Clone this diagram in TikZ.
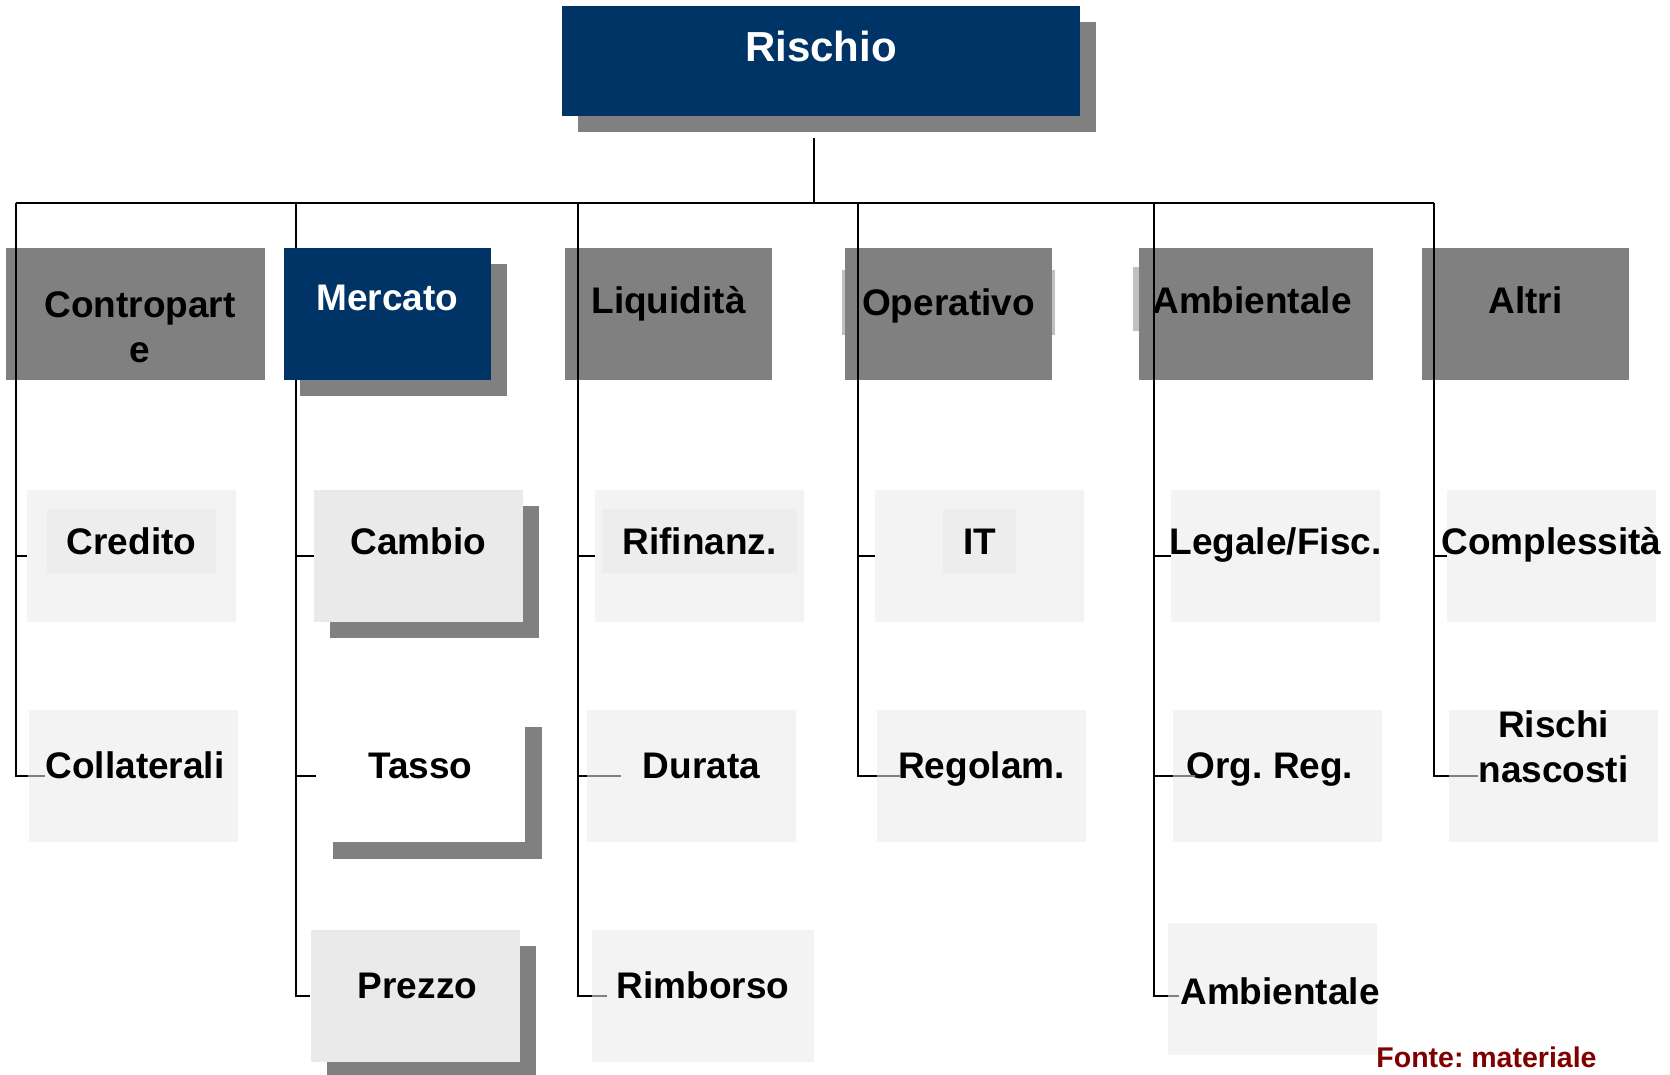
\documentclass[tikz,border=0pt]{standalone}
\usepackage{fontspec}
\setmainfont{Liberation Sans}
\frenchspacing
\usepackage{tikz}
\usetikzlibrary{positioning,shadows,backgrounds,calc}
\definecolor{navy}{RGB}{0,51,102}
\definecolor{catgray}{RGB}{128,128,128}
\definecolor{subfill}{RGB}{243,243,243}
\definecolor{darkfill}{RGB}{234,234,234}
\definecolor{innerfill}{RGB}{237,237,237}
\definecolor{backfill}{RGB}{192,192,192}
\definecolor{fonte}{RGB}{128,0,0}

\begin{document}
\begin{tikzpicture}[x=0.5pt, y=-0.5pt,
    txt/.style={font=\bfseries\fontsize{18.5}{22.5}\selectfont, inner sep=0pt, align=center},
    caps/.style={text height=#1, text depth=0pt}, caps/.default=13.3pt,
    cat/.style={fill=catgray, minimum width=103.5pt, minimum height=66pt, inner sep=0pt},
    sub/.style={fill=subfill, minimum width=104.5pt, minimum height=66pt, inner sep=0pt},
    inner/.style={txt, caps, fill=innerfill, minimum height=32pt, inner xsep=10pt},
    shade/.style={drop shadow={opacity=1, fill=catgray, shadow xshift=#1, shadow yshift=-#1}},
    shade/.default=8pt,
    tree/.style={line width=1pt},
    stub/.style={line width=1pt, catgray}]
   \useasboundingbox (0,0) rectangle (1670,1075);

   \node[fill=navy, minimum width=259pt, minimum height=55pt, shade,
     label={[txt, caps=15pt, white, font=\bfseries\fontsize{21}{25}\selectfont, yshift=7pt]center:Rischio}] (risk) at (821,61) {};
   \node[cat, fill=navy, shade, label={[txt, caps, white, yshift=8.5pt]center:Mercato}] (mkt) at (387.5,314) {};

   \node[sub, label={[inner, yshift=7.5pt]center:Credito}] (cred) at (131.5,556) {};
   \node[sub, fill=darkfill, shade, label={[txt, caps, yshift=7.25pt]center:Cambio}] (camb) at (418.5,556) {};
   \node[sub, label={[inner, yshift=7.5pt]center:Rifinanz.}] (rif) at (699.5,556) {};
   \node[sub, label={[inner, yshift=7.5pt]center:IT}] (it) at (979.5,556) {};
   \node[sub, label={[txt, caps, yshift=7.25pt]center:Legale/Fisc.}] (leg) at (1275.5,556) {};
   \node[sub, label={[txt, caps, yshift=7.25pt]center:Complessità}] (cplx) at (1551.5,556) {};

   \node[sub, label={[txt, caps, yshift=5.5pt, xshift=1pt]center:Collaterali}] (coll) at (133,776) {};
   \node[sub, fill=white, shade=8.5pt, label={[txt, caps, yshift=5.5pt]center:Tasso}] (tas) at (420.5,776) {};
   \node[sub, label={[txt, caps, yshift=5.5pt, xshift=5pt]center:Durata}] (dur) at (691.5,776) {};
   \node[sub, label={[txt, caps, yshift=5.5pt]center:Regolam.}] (reg) at (981.5,776) {};
   \node[sub, label={[txt, caps, yshift=5.5pt, xshift=-3.75pt]center:Org. Reg.}] (org) at (1277.5,776) {};
   \node[sub, label={[txt, yshift=14.5pt]center:{Rischi\\nascosti}}] (hid) at (1553.5,776) {};

   \node[sub, fill=darkfill, shade, label={[txt, caps, yshift=5.5pt, xshift=1.25pt]center:Prezzo}] (prz) at (415,996) {};
   \node[sub, minimum width=111pt, label={[txt, caps, yshift=5.5pt]center:Rimborso}] (rim) at (703,996) {};
   \node[sub, label={[txt, caps, yshift=-1pt, xshift=3.75pt]center:Ambientale}] (ambc) at (1272.5,989) {};

   \node[txt, caps=10.2pt, text=fonte, font=\bfseries\fontsize{14.25}{17}\selectfont] (src) at (1486.5,1057) {Fonte: materiale};

   \draw[stub] (coll.west) -- +(17,0);
   \draw[stub] (dur.west) -- +(34,0);
   \draw[stub] (reg.west) -- +(24,0);
   \draw[stub] (org.west) -- +(22,0);
   \draw[stub] (hid.west) -- +(29,0);
   \draw[stub] (rim.west) -- +(15,0);
   \draw[stub] ([yshift=-3.5pt]ambc.west) -- +(11,0);

   \begin{scope}[on background layer]
   \fill[backfill] (842,270) rectangle (1055,335);
   \fill[backfill] (1133,267) rectangle (1373,331);
   \node[cat, minimum width=129.5pt, label={[txt, yshift=-6.5pt, xshift=2.25pt]center:{Contropart\\e}}] (cp) at (135.5,314) {};
   \node[cat, label={[txt, caps, yshift=7pt]center:Liquidità}] (liq) at (668.5,314) {};
   \node[cat, label={[txt, caps, yshift=6pt]center:Operativo}] (op) at (948.5,314) {};
   \node[cat, minimum width=117pt, label={[txt, caps, yshift=7pt, xshift=-2pt]center:Ambientale}] (amb) at (1256,314) {};
   \node[cat, label={[txt, caps, yshift=7pt]center:Altri}] (alt) at (1525.5,314) {};

   \coordinate (stem) at (814,138);
   \coordinate (bcp) at (16,203);
   \coordinate (bmk) at (296,203);
   \coordinate (bliq) at (578,203);
   \coordinate (bop) at (858,203);
   \coordinate (bamb) at (1154,203);
   \coordinate (balt) at (1434,203);
   \draw[tree] (stem) -- (stem |- bcp);
   \draw[tree] (bcp) -- (balt);
   \draw[tree] (bcp) |- (cred.west) (bcp) |- (coll.west);
   \draw[tree] (bmk) |- (camb.west) (bmk) |- (tas.west) (bmk) |- (prz.west);
   \draw[tree] (bliq) |- (rif.west) (bliq) |- (dur.west) (bliq) |- (rim.west);
   \draw[tree] (bop) |- (it.west) (bop) |- (reg.west);
   \draw[tree] (bamb) |- (leg.west) (bamb) |- (org.west) (bamb) |- ([yshift=-3.5pt]ambc.west);
   \draw[tree] (balt) |- (cplx.west) (balt) |- (hid.west);
   \end{scope}
\end{tikzpicture}
\end{document}
